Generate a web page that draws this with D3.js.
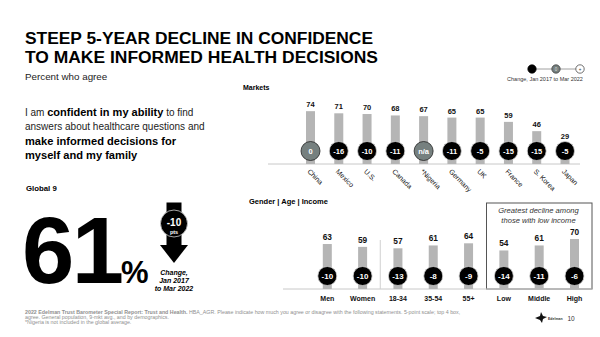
<!DOCTYPE html>
<html>
<head>
<meta charset="utf-8">
<script src="https://cdn.jsdelivr.net/npm/d3@7"></script>
<style>
  html, body { margin: 0; padding: 0; background: #fff; }
  svg { display: block; font-family: "Liberation Sans", Arial, sans-serif; }
</style>
</head>
<body>
<svg id="chart" width="600" height="337"></svg>
<script>
// Market results
const marketNames = ["China", "Mexico", "U.S.", "Canada", "*Nigeria", "Germany", "UK", "France", "S. Korea", "Japan"];
const marketValues = [74, 71, 70, 68, 67, 65, 65, 59, 46, 29];
const marketChange = [0, -16, -10, -11, null, -11, -5, -15, -15, -5];

// Demographic results
const demoNames = ["Men", "Women", "18-34", "35-54", "55+", "Low", "Middle", "High"];
const demoValues = [63, 59, 57, 61, 64, 54, 61, 70];
const demoChange = [-10, -10, -13, -8, -9, -14, -11, -6];

// Global headline figure
const globalValue = 61;
const globalChange = -10;

const BAR = "#b5b5b5";
const DARK = "#000";
const FLAT = "#76807f";

const svg = d3.select("#chart");

// ---- Title block ----
svg.append("text").attr("x", 25).attr("y", 43.5).attr("textLength", 348).attr("lengthAdjust", "spacingAndGlyphs")
  .attr("font-size", 17.2).attr("font-weight", "bold").text("STEEP 5-YEAR DECLINE IN CONFIDENCE");
svg.append("text").attr("x", 25).attr("y", 62.5).attr("textLength", 353).attr("lengthAdjust", "spacingAndGlyphs")
  .attr("font-size", 17.2).attr("font-weight", "bold").text("TO MAKE INFORMED HEALTH DECISIONS");
svg.append("text").attr("x", 25).attr("y", 79.5)
  .attr("font-size", 9.8).attr("fill", "#222").text("Percent who agree");

// ---- Statement ----
const st = svg.append("text").attr("x", 25).attr("font-size", 10).attr("fill", "#222");
const l1 = st.append("tspan").attr("x", 25).attr("y", 115.5);
l1.append("tspan").text("I am ");
l1.append("tspan").attr("font-weight", "bold").attr("font-size", 11).attr("fill", "#000").text("confident in my ability");
l1.append("tspan").text(" to find");
st.append("tspan").attr("x", 25).attr("y", 129.5).text("answers about healthcare questions and");
st.append("tspan").attr("x", 25).attr("y", 144.5).attr("font-weight", "bold").attr("font-size", 11.1)
  .attr("fill", "#000").text("make informed decisions for");
st.append("tspan").attr("x", 25).attr("y", 158.5).attr("font-weight", "bold").attr("font-size", 11.1)
  .attr("fill", "#000").text("myself and my family");

svg.append("text").attr("x", 26).attr("y", 191).attr("font-size", 7.8).attr("font-weight", "bold")
  .text("Global 9");

// ---- Big headline number ----
svg.append("text").attr("x", 22).attr("y", 283).attr("font-size", 94).attr("font-weight", "bold")
  .attr("letter-spacing", -2.5).text(globalValue);
svg.append("text").attr("x", 121).attr("y", 283).attr("font-size", 31).attr("font-weight", "bold").text("%");

// Down arrow with change bubble
const ax = 174;
svg.append("rect").attr("x", ax - 7.5).attr("y", 202.5).attr("width", 15).attr("height", 45).attr("fill", DARK);
svg.append("path").attr("d", `M${ax - 14},245 L${ax + 14},245 L${ax},263 Z`).attr("fill", DARK);
svg.append("circle").attr("cx", ax).attr("cy", 223.5).attr("r", 13.5).attr("fill", DARK)
  .attr("stroke", "#cfcfcf").attr("stroke-width", 0.8);
svg.append("text").attr("x", ax).attr("y", 226).attr("text-anchor", "middle").attr("fill", "#fff")
  .attr("font-size", 10).attr("font-weight", "bold").text(globalChange);
svg.append("text").attr("x", ax).attr("y", 234).attr("text-anchor", "middle").attr("fill", "#fff")
  .attr("font-size", 5.5).attr("font-weight", "bold").text("pts");
const chg = svg.append("text").attr("text-anchor", "middle").attr("font-size", 7)
  .attr("font-weight", "bold").attr("font-style", "italic");
[["Change,", 275], ["Jan 2017", 283], ["to Mar 2022", 291]].forEach(([t, y]) =>
  chg.append("tspan").attr("x", ax).attr("y", y).text(t));

// ---- Legend ----
const legY = 69;
svg.append("line").attr("x1", 532).attr("x2", 580).attr("y1", legY).attr("y2", legY)
  .attr("stroke", "#888").attr("stroke-width", 0.8);
[[532, DARK, DARK, ""], [556, FLAT, "#333", "0"], [580, "#fff", "#333", "+"]].forEach(([x, f, s, t]) => {
  svg.append("circle").attr("cx", x).attr("cy", legY).attr("r", 4.2).attr("fill", f)
    .attr("stroke", s).attr("stroke-width", 0.7);
  svg.append("text").attr("x", x).attr("y", legY + 1.6).attr("text-anchor", "middle")
    .attr("font-size", 4.5).attr("fill", f === "#fff" ? "#333" : "#ddd").text(t);
});
svg.append("text").attr("x", 545).attr("y", 81).attr("text-anchor", "middle").attr("font-size", 5.5)
  .attr("fill", "#333").text("Change, Jan 2017 to Mar 2022");

// ---- Shared mark drawing ----
function circleFill(c) { return (c === null || c === 0) ? FLAT : DARK; }
function circleLabel(c) { return c === null ? "n/a" : String(c); }

function drawBars(g, names, values, changes, x, y, circY, opts) {
  const bw = 9;
  const items = names.map((n, i) => ({ n, v: values[i], c: changes[i] }));
  g.selectAll("rect.bar").data(items).join("rect").attr("class", "bar")
    .attr("x", d => x(d.n) - bw / 2).attr("width", bw)
    .attr("y", d => y(d.v)).attr("height", d => y(0) - y(d.v)).attr("fill", BAR);
  g.selectAll("text.val").data(items).join("text").attr("class", "val")
    .attr("x", d => x(d.n)).attr("y", d => y(d.v) - 4).attr("text-anchor", "middle")
    .attr("font-size", opts.valSize).attr("font-weight", "bold").attr("fill", "#111").text(d => d.v);
  g.selectAll("circle.chg").data(items).join("circle").attr("class", "chg")
    .attr("cx", d => x(d.n)).attr("cy", circY).attr("r", 9.5)
    .attr("fill", d => circleFill(d.c))
    .attr("stroke", d => circleFill(d.c) === DARK ? "#d0d0d0" : "#222")
    .attr("stroke-width", 0.8);
  g.selectAll("text.chg").data(items).join("text").attr("class", "chg")
    .attr("x", d => x(d.n)).attr("y", circY + 2.6).attr("text-anchor", "middle")
    .attr("font-size", opts.chgSize).attr("font-weight", "bold").attr("fill", "#fff").text(d => circleLabel(d.c));
}

// ---- Markets chart ----
svg.append("text").attr("x", 243).attr("y", 90).attr("font-size", 7).attr("font-weight", "bold").text("Markets");
const xM = d3.scalePoint().domain(marketNames).range([310.5, 565]);
const yM = d3.scaleLinear().domain([0, 100]).range([164, 92.6]);
const gM = svg.append("g");
gM.append("line").attr("x1", 268).attr("x2", 580).attr("y1", yM(0)).attr("y2", yM(0))
  .attr("stroke", "#c8c8c8").attr("stroke-width", 1);
drawBars(gM, marketNames, marketValues, marketChange, xM, yM, 151, { valSize: 7.5, chgSize: 7.5 });
gM.selectAll("text.cat").data(marketNames).join("text").attr("class", "cat")
  .attr("transform", d => `translate(${xM(d) - 3.5},${172}) rotate(45)`)
  .attr("font-size", 7).attr("fill", "#111").text(d => d);

// ---- Demographics chart ----
svg.append("text").attr("x", 249).attr("y", 203.5).attr("font-size", 7.5).attr("font-weight", "bold")
  .text("Gender | Age | Income");
const xD = d3.scalePoint().domain(demoNames).range([327.3, 574.5]);
const yD = d3.scaleLinear().domain([0, 100]).range([289, 217.6]);
const gD = svg.append("g");

// Highlight box around income groups
gD.append("rect").attr("x", 486.5).attr("y", 203).attr("width", 105.5).attr("height", yD(0) - 203)
  .attr("fill", "none").attr("stroke", "#555").attr("stroke-width", 1);
gD.append("text").attr("x", 538.5).attr("y", 213).attr("text-anchor", "middle").attr("font-size", 7.6)
  .attr("font-style", "italic").attr("fill", "#333").text("Greatest decline among");
gD.append("text").attr("x", 538.5).attr("y", 222.5).attr("text-anchor", "middle").attr("font-size", 7.6)
  .attr("font-style", "italic").attr("fill", "#333").text("those with low income");

gD.append("line").attr("x1", 283).attr("x2", 592).attr("y1", yD(0)).attr("y2", yD(0))
  .attr("stroke", "#c8c8c8").attr("stroke-width", 1);
// Separator between gender and age groups
const sepX = (xD("Women") + xD("18-34")) / 2;
gD.append("line").attr("x1", sepX).attr("x2", sepX).attr("y1", 240).attr("y2", yD(0))
  .attr("stroke", "#d0d0d0").attr("stroke-width", 1);

drawBars(gD, demoNames, demoValues, demoChange, xD, yD, 276, { valSize: 8.3, chgSize: 8 });
gD.selectAll("text.cat").data(demoNames).join("text").attr("class", "cat")
  .attr("x", d => xD(d)).attr("y", 300.5).attr("text-anchor", "middle")
  .attr("font-size", 7).attr("font-weight", "bold").attr("fill", "#111").text(d => d);

// ---- Footnotes ----
const fn = svg.append("text").attr("font-size", 5.3).attr("fill", "#8f8f8f");
const f1 = fn.append("tspan").attr("x", 25).attr("y", 313.5);
f1.append("tspan").attr("font-weight", "bold").text("2022 Edelman Trust Barometer Special Report: Trust and Health.");
f1.append("tspan").text(" HBA_AGR. Please indicate how much you agree or disagree with the following statements. 5-point scale; top 4 box,");
fn.append("tspan").attr("x", 25).attr("y", 318.8).text("agree. General population, 9-mkt avg., and by demographics.");
fn.append("tspan").attr("x", 25).attr("y", 323.8).text("*Nigeria is not included in the global average.");

// ---- Brand mark and page number ----
svg.append("path")
  .attr("d", "M535,318 L540,316 L541,312 L543,316 L547,317 L543,319 L542,323 L540,320 Z")
  .attr("fill", "#111");
svg.append("text").attr("x", 548).attr("y", 319.5).attr("font-size", 3.5).attr("font-weight", "bold")
  .attr("fill", "#333").text("Edelman");
svg.append("text").attr("x", 567.5).attr("y", 321).attr("font-size", 6.5).attr("fill", "#333").text("10");
</script>
</body>
</html>
